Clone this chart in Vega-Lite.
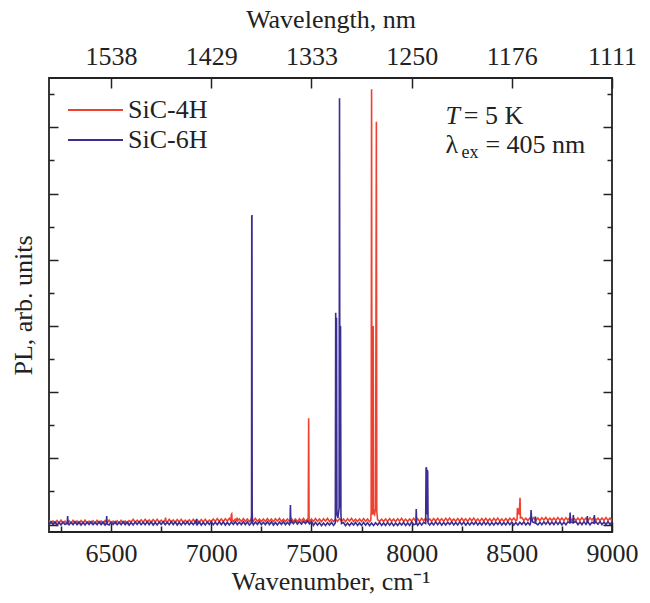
{
  "$schema": "https://vega.github.io/schema/vega-lite/v6.json",
  "width": 563,
  "height": 454,
  "autosize": {"type": "none"},
  "padding": {"left": 49, "top": 78, "right": 38, "bottom": 71},
  "background": "white",
  "config": {
    "view": {"stroke": "#222", "strokeWidth": 1.8},
    "font": "Liberation Serif",
    "axis": {
      "domain": false, "grid": false,
      "labelFont": "Liberation Serif, Times New Roman, serif", "labelFontSize": 26, "labelColor": "#222",
      "titleFont": "Liberation Serif, Times New Roman, serif", "titleFontSize": 26, "titleFontWeight": "normal", "titleColor": "#222",
      "tickColor": "#222", "tickWidth": 1.5
    }
  },
  "datasets": {
    "spec": [
      {"s":"SiC-4H","w":6190,"v":0.125},{"s":"SiC-4H","w":6200,"v":0.045},{"s":"SiC-4H","w":6210,"v":0.11},{"s":"SiC-4H","w":6220,"v":0.03},{"s":"SiC-4H","w":6230,"v":0.12},{"s":"SiC-4H","w":6240,"v":0.05},{"s":"SiC-4H","w":6250,"v":0.13},{"s":"SiC-4H","w":6260,"v":0.04},{"s":"SiC-4H","w":6270,"v":0.105},{"s":"SiC-4H","w":6280,"v":0.035},{"s":"SiC-4H","w":6290,"v":0.115},{"s":"SiC-4H","w":6300,"v":0.04},
      {"s":"SiC-4H","w":6310,"v":0.125},{"s":"SiC-4H","w":6320,"v":0.045},{"s":"SiC-4H","w":6330,"v":0.11},{"s":"SiC-4H","w":6340,"v":0.03},{"s":"SiC-4H","w":6350,"v":0.12},{"s":"SiC-4H","w":6360,"v":0.05},{"s":"SiC-4H","w":6370,"v":0.13},{"s":"SiC-4H","w":6380,"v":0.04},{"s":"SiC-4H","w":6390,"v":0.105},{"s":"SiC-4H","w":6400,"v":0.035},{"s":"SiC-4H","w":6410,"v":0.115},{"s":"SiC-4H","w":6420,"v":0.04},
      {"s":"SiC-4H","w":6430,"v":0.125},{"s":"SiC-4H","w":6440,"v":0.045},{"s":"SiC-4H","w":6450,"v":0.11},{"s":"SiC-4H","w":6460,"v":0.03},{"s":"SiC-4H","w":6470,"v":0.12},{"s":"SiC-4H","w":6480,"v":0.05},{"s":"SiC-4H","w":6490,"v":0.13},{"s":"SiC-4H","w":6500,"v":0.04},{"s":"SiC-4H","w":6510,"v":0.105},{"s":"SiC-4H","w":6520,"v":0.035},{"s":"SiC-4H","w":6530,"v":0.115},{"s":"SiC-4H","w":6540,"v":0.04},
      {"s":"SiC-4H","w":6550,"v":0.125},{"s":"SiC-4H","w":6560,"v":0.045},{"s":"SiC-4H","w":6570,"v":0.11},{"s":"SiC-4H","w":6580,"v":0.03},{"s":"SiC-4H","w":6590,"v":0.12},
      {"s":"SiC-4H","w":6600,"v":0.08},{"s":"SiC-4H","w":6610,"v":0.16},{"s":"SiC-4H","w":6620,"v":0.07},{"s":"SiC-4H","w":6630,"v":0.135},{"s":"SiC-4H","w":6640,"v":0.065},{"s":"SiC-4H","w":6650,"v":0.145},{"s":"SiC-4H","w":6660,"v":0.07},{"s":"SiC-4H","w":6670,"v":0.155},{"s":"SiC-4H","w":6680,"v":0.075},{"s":"SiC-4H","w":6690,"v":0.14},{"s":"SiC-4H","w":6700,"v":0.06},{"s":"SiC-4H","w":6710,"v":0.15},
      {"s":"SiC-4H","w":6720,"v":0.08},{"s":"SiC-4H","w":6730,"v":0.16},{"s":"SiC-4H","w":6740,"v":0.07},{"s":"SiC-4H","w":6750,"v":0.135},{"s":"SiC-4H","w":6760,"v":0.065},{"s":"SiC-4H","w":6770,"v":0.145},{"s":"SiC-4H","w":6772,"v":0.21},{"s":"SiC-4H","w":6774,"v":0.1},{"s":"SiC-4H","w":6780,"v":0.07},{"s":"SiC-4H","w":6790,"v":0.155},{"s":"SiC-4H","w":6800,"v":0.075},{"s":"SiC-4H","w":6810,"v":0.14},{"s":"SiC-4H","w":6820,"v":0.06},{"s":"SiC-4H","w":6830,"v":0.15},
      {"s":"SiC-4H","w":6840,"v":0.08},{"s":"SiC-4H","w":6850,"v":0.16},{"s":"SiC-4H","w":6860,"v":0.07},{"s":"SiC-4H","w":6870,"v":0.135},{"s":"SiC-4H","w":6880,"v":0.065},{"s":"SiC-4H","w":6890,"v":0.145},{"s":"SiC-4H","w":6900,"v":0.07},{"s":"SiC-4H","w":6910,"v":0.155},{"s":"SiC-4H","w":6920,"v":0.075},{"s":"SiC-4H","w":6930,"v":0.14},{"s":"SiC-4H","w":6940,"v":0.06},{"s":"SiC-4H","w":6950,"v":0.15},
      {"s":"SiC-4H","w":6960,"v":0.08},{"s":"SiC-4H","w":6970,"v":0.16},{"s":"SiC-4H","w":6980,"v":0.07},{"s":"SiC-4H","w":6990,"v":0.135},
      {"s":"SiC-4H","w":7000,"v":0.09},{"s":"SiC-4H","w":7010,"v":0.17},{"s":"SiC-4H","w":7020,"v":0.095},{"s":"SiC-4H","w":7030,"v":0.18},{"s":"SiC-4H","w":7040,"v":0.10},{"s":"SiC-4H","w":7050,"v":0.165},{"s":"SiC-4H","w":7060,"v":0.085},{"s":"SiC-4H","w":7070,"v":0.175},{"s":"SiC-4H","w":7080,"v":0.105},{"s":"SiC-4H","w":7090,"v":0.185},
      {"s":"SiC-4H","w":7098,"v":0.12},{"s":"SiC-4H","w":7100,"v":0.30},{"s":"SiC-4H","w":7102,"v":0.32},{"s":"SiC-4H","w":7104,"v":0.14},{"s":"SiC-4H","w":7110,"v":0.095},{"s":"SiC-4H","w":7120,"v":0.16},{"s":"SiC-4H","w":7127,"v":0.12},{"s":"SiC-4H","w":7129,"v":0.21},{"s":"SiC-4H","w":7131,"v":0.11},{"s":"SiC-4H","w":7140,"v":0.17},
      {"s":"SiC-4H","w":7150,"v":0.095},{"s":"SiC-4H","w":7160,"v":0.18},{"s":"SiC-4H","w":7170,"v":0.10},{"s":"SiC-4H","w":7180,"v":0.165},{"s":"SiC-4H","w":7190,"v":0.085},{"s":"SiC-4H","w":7200,"v":0.175},{"s":"SiC-4H","w":7210,"v":0.105},{"s":"SiC-4H","w":7220,"v":0.185},{"s":"SiC-4H","w":7230,"v":0.095},{"s":"SiC-4H","w":7240,"v":0.16},{"s":"SiC-4H","w":7250,"v":0.09},{"s":"SiC-4H","w":7260,"v":0.17},
      {"s":"SiC-4H","w":7270,"v":0.095},{"s":"SiC-4H","w":7280,"v":0.18},{"s":"SiC-4H","w":7290,"v":0.10},{"s":"SiC-4H","w":7300,"v":0.165},{"s":"SiC-4H","w":7310,"v":0.085},{"s":"SiC-4H","w":7320,"v":0.175},{"s":"SiC-4H","w":7330,"v":0.105},{"s":"SiC-4H","w":7340,"v":0.185},{"s":"SiC-4H","w":7350,"v":0.095},{"s":"SiC-4H","w":7360,"v":0.16},{"s":"SiC-4H","w":7370,"v":0.09},{"s":"SiC-4H","w":7380,"v":0.17},
      {"s":"SiC-4H","w":7390,"v":0.095},{"s":"SiC-4H","w":7400,"v":0.18},{"s":"SiC-4H","w":7410,"v":0.10},{"s":"SiC-4H","w":7420,"v":0.165},{"s":"SiC-4H","w":7430,"v":0.085},{"s":"SiC-4H","w":7440,"v":0.175},{"s":"SiC-4H","w":7450,"v":0.105},{"s":"SiC-4H","w":7460,"v":0.185},{"s":"SiC-4H","w":7470,"v":0.095},{"s":"SiC-4H","w":7480,"v":0.16},
      {"s":"SiC-4H","w":7484,"v":0.13},{"s":"SiC-4H","w":7486,"v":3.21},{"s":"SiC-4H","w":7488,"v":0.14},{"s":"SiC-4H","w":7490,"v":0.09},{"s":"SiC-4H","w":7500,"v":0.17},{"s":"SiC-4H","w":7510,"v":0.095},{"s":"SiC-4H","w":7520,"v":0.18},{"s":"SiC-4H","w":7530,"v":0.10},{"s":"SiC-4H","w":7540,"v":0.165},{"s":"SiC-4H","w":7550,"v":0.085},{"s":"SiC-4H","w":7560,"v":0.175},
      {"s":"SiC-4H","w":7570,"v":0.105},{"s":"SiC-4H","w":7580,"v":0.185},{"s":"SiC-4H","w":7590,"v":0.095},{"s":"SiC-4H","w":7600,"v":0.16},{"s":"SiC-4H","w":7610,"v":0.09},{"s":"SiC-4H","w":7620,"v":0.17},{"s":"SiC-4H","w":7630,"v":0.095},{"s":"SiC-4H","w":7640,"v":0.18},{"s":"SiC-4H","w":7650,"v":0.10},{"s":"SiC-4H","w":7660,"v":0.165},{"s":"SiC-4H","w":7670,"v":0.085},{"s":"SiC-4H","w":7680,"v":0.175},
      {"s":"SiC-4H","w":7690,"v":0.105},{"s":"SiC-4H","w":7700,"v":0.185},{"s":"SiC-4H","w":7710,"v":0.095},{"s":"SiC-4H","w":7720,"v":0.16},{"s":"SiC-4H","w":7730,"v":0.09},{"s":"SiC-4H","w":7740,"v":0.17},{"s":"SiC-4H","w":7750,"v":0.095},{"s":"SiC-4H","w":7760,"v":0.18},{"s":"SiC-4H","w":7770,"v":0.10},{"s":"SiC-4H","w":7780,"v":0.165},{"s":"SiC-4H","w":7790,"v":0.085},
      {"s":"SiC-4H","w":7796,"v":0.13},{"s":"SiC-4H","w":7798,"v":0.4},{"s":"SiC-4H","w":7800,"v":13.15},{"s":"SiC-4H","w":7802,"v":0.5},{"s":"SiC-4H","w":7805,"v":0.3},{"s":"SiC-4H","w":7808,"v":6.0},{"s":"SiC-4H","w":7810,"v":0.35},{"s":"SiC-4H","w":7815,"v":0.3},{"s":"SiC-4H","w":7820,"v":0.5},{"s":"SiC-4H","w":7824,"v":12.17},{"s":"SiC-4H","w":7826,"v":0.4},{"s":"SiC-4H","w":7830,"v":0.15},
      {"s":"SiC-4H","w":7840,"v":0.095},{"s":"SiC-4H","w":7850,"v":0.16},{"s":"SiC-4H","w":7860,"v":0.09},{"s":"SiC-4H","w":7870,"v":0.17},{"s":"SiC-4H","w":7880,"v":0.095},{"s":"SiC-4H","w":7890,"v":0.18},{"s":"SiC-4H","w":7900,"v":0.10},{"s":"SiC-4H","w":7910,"v":0.165},{"s":"SiC-4H","w":7920,"v":0.085},{"s":"SiC-4H","w":7930,"v":0.175},{"s":"SiC-4H","w":7940,"v":0.105},{"s":"SiC-4H","w":7950,"v":0.185},
      {"s":"SiC-4H","w":7960,"v":0.095},{"s":"SiC-4H","w":7970,"v":0.16},{"s":"SiC-4H","w":7980,"v":0.09},{"s":"SiC-4H","w":7990,"v":0.17},
      {"s":"SiC-4H","w":8000,"v":0.105},{"s":"SiC-4H","w":8010,"v":0.19},{"s":"SiC-4H","w":8020,"v":0.11},{"s":"SiC-4H","w":8030,"v":0.175},{"s":"SiC-4H","w":8040,"v":0.095},{"s":"SiC-4H","w":8050,"v":0.185},{"s":"SiC-4H","w":8060,"v":0.115},{"s":"SiC-4H","w":8070,"v":0.195},{"s":"SiC-4H","w":8080,"v":0.105},{"s":"SiC-4H","w":8090,"v":0.17},{"s":"SiC-4H","w":8100,"v":0.10},{"s":"SiC-4H","w":8110,"v":0.18},
      {"s":"SiC-4H","w":8120,"v":0.105},{"s":"SiC-4H","w":8130,"v":0.19},{"s":"SiC-4H","w":8140,"v":0.11},{"s":"SiC-4H","w":8150,"v":0.175},{"s":"SiC-4H","w":8160,"v":0.095},{"s":"SiC-4H","w":8170,"v":0.185},{"s":"SiC-4H","w":8180,"v":0.115},{"s":"SiC-4H","w":8190,"v":0.195},{"s":"SiC-4H","w":8200,"v":0.105},{"s":"SiC-4H","w":8210,"v":0.17},{"s":"SiC-4H","w":8220,"v":0.10},{"s":"SiC-4H","w":8230,"v":0.18},
      {"s":"SiC-4H","w":8240,"v":0.105},{"s":"SiC-4H","w":8250,"v":0.19},{"s":"SiC-4H","w":8260,"v":0.11},{"s":"SiC-4H","w":8270,"v":0.175},{"s":"SiC-4H","w":8280,"v":0.095},{"s":"SiC-4H","w":8290,"v":0.185},{"s":"SiC-4H","w":8300,"v":0.115},{"s":"SiC-4H","w":8310,"v":0.195},{"s":"SiC-4H","w":8320,"v":0.105},{"s":"SiC-4H","w":8330,"v":0.17},{"s":"SiC-4H","w":8340,"v":0.10},{"s":"SiC-4H","w":8350,"v":0.18},
      {"s":"SiC-4H","w":8360,"v":0.105},{"s":"SiC-4H","w":8370,"v":0.19},{"s":"SiC-4H","w":8380,"v":0.11},{"s":"SiC-4H","w":8390,"v":0.175},{"s":"SiC-4H","w":8400,"v":0.095},{"s":"SiC-4H","w":8410,"v":0.185},{"s":"SiC-4H","w":8420,"v":0.115},{"s":"SiC-4H","w":8430,"v":0.195},{"s":"SiC-4H","w":8440,"v":0.105},{"s":"SiC-4H","w":8450,"v":0.17},{"s":"SiC-4H","w":8460,"v":0.10},{"s":"SiC-4H","w":8470,"v":0.18},
      {"s":"SiC-4H","w":8480,"v":0.105},{"s":"SiC-4H","w":8490,"v":0.19},
      {"s":"SiC-4H","w":8500,"v":0.13},{"s":"SiC-4H","w":8510,"v":0.195},{"s":"SiC-4H","w":8520,"v":0.115},{"s":"SiC-4H","w":8526,"v":0.15},{"s":"SiC-4H","w":8528,"v":0.50},{"s":"SiC-4H","w":8531,"v":0.45},{"s":"SiC-4H","w":8536,"v":0.3},{"s":"SiC-4H","w":8539,"v":0.55},{"s":"SiC-4H","w":8541,"v":0.81},{"s":"SiC-4H","w":8543,"v":0.2},
      {"s":"SiC-4H","w":8550,"v":0.215},{"s":"SiC-4H","w":8560,"v":0.125},{"s":"SiC-4H","w":8570,"v":0.19},{"s":"SiC-4H","w":8580,"v":0.12},{"s":"SiC-4H","w":8590,"v":0.20},{"s":"SiC-4H","w":8600,"v":0.125},{"s":"SiC-4H","w":8610,"v":0.21},{"s":"SiC-4H","w":8620,"v":0.13},{"s":"SiC-4H","w":8630,"v":0.195},{"s":"SiC-4H","w":8640,"v":0.115},{"s":"SiC-4H","w":8650,"v":0.205},
      {"s":"SiC-4H","w":8660,"v":0.135},{"s":"SiC-4H","w":8670,"v":0.215},{"s":"SiC-4H","w":8680,"v":0.125},{"s":"SiC-4H","w":8690,"v":0.19},{"s":"SiC-4H","w":8700,"v":0.12},{"s":"SiC-4H","w":8710,"v":0.20},{"s":"SiC-4H","w":8720,"v":0.125},{"s":"SiC-4H","w":8730,"v":0.21},{"s":"SiC-4H","w":8740,"v":0.13},{"s":"SiC-4H","w":8750,"v":0.195},{"s":"SiC-4H","w":8760,"v":0.115},{"s":"SiC-4H","w":8770,"v":0.205},
      {"s":"SiC-4H","w":8780,"v":0.135},{"s":"SiC-4H","w":8790,"v":0.215},{"s":"SiC-4H","w":8800,"v":0.125},{"s":"SiC-4H","w":8810,"v":0.19},{"s":"SiC-4H","w":8820,"v":0.12},{"s":"SiC-4H","w":8830,"v":0.20},{"s":"SiC-4H","w":8840,"v":0.125},{"s":"SiC-4H","w":8850,"v":0.21},{"s":"SiC-4H","w":8860,"v":0.13},{"s":"SiC-4H","w":8870,"v":0.195},{"s":"SiC-4H","w":8880,"v":0.115},{"s":"SiC-4H","w":8890,"v":0.205},
      {"s":"SiC-4H","w":8900,"v":0.135},{"s":"SiC-4H","w":8910,"v":0.215},{"s":"SiC-4H","w":8920,"v":0.125},{"s":"SiC-4H","w":8930,"v":0.19},{"s":"SiC-4H","w":8940,"v":0.12},{"s":"SiC-4H","w":8950,"v":0.20},{"s":"SiC-4H","w":8960,"v":0.125},{"s":"SiC-4H","w":8970,"v":0.21},{"s":"SiC-4H","w":8980,"v":0.13},{"s":"SiC-4H","w":8990,"v":0.195},{"s":"SiC-4H","w":9000,"v":0.115},

      {"s":"SiC-6H","w":6190,"v":-0.005},{"s":"SiC-6H","w":6200,"v":0.085},{"s":"SiC-6H","w":6210,"v":0.0},{"s":"SiC-6H","w":6220,"v":0.08},{"s":"SiC-6H","w":6230,"v":-0.015},{"s":"SiC-6H","w":6240,"v":0.065},{"s":"SiC-6H","w":6250,"v":-0.01},{"s":"SiC-6H","w":6260,"v":0.075},{"s":"SiC-6H","w":6270,"v":0.005},
      {"s":"SiC-6H","w":6281,"v":0.04},{"s":"SiC-6H","w":6283,"v":0.26},{"s":"SiC-6H","w":6285,"v":0.03},{"s":"SiC-6H","w":6290,"v":-0.005},{"s":"SiC-6H","w":6300,"v":0.07},{"s":"SiC-6H","w":6310,"v":-0.005},{"s":"SiC-6H","w":6320,"v":0.085},{"s":"SiC-6H","w":6330,"v":0.0},{"s":"SiC-6H","w":6340,"v":0.08},{"s":"SiC-6H","w":6350,"v":-0.015},{"s":"SiC-6H","w":6360,"v":0.065},
      {"s":"SiC-6H","w":6370,"v":-0.01},{"s":"SiC-6H","w":6380,"v":0.075},{"s":"SiC-6H","w":6390,"v":0.005},{"s":"SiC-6H","w":6400,"v":0.085},{"s":"SiC-6H","w":6410,"v":-0.005},{"s":"SiC-6H","w":6420,"v":0.07},{"s":"SiC-6H","w":6430,"v":-0.005},{"s":"SiC-6H","w":6440,"v":0.085},{"s":"SiC-6H","w":6450,"v":0.0},{"s":"SiC-6H","w":6460,"v":0.08},{"s":"SiC-6H","w":6470,"v":-0.015},
      {"s":"SiC-6H","w":6476,"v":0.03},{"s":"SiC-6H","w":6478,"v":0.26},{"s":"SiC-6H","w":6480,"v":0.02},{"s":"SiC-6H","w":6490,"v":-0.01},{"s":"SiC-6H","w":6500,"v":0.075},{"s":"SiC-6H","w":6510,"v":0.005},{"s":"SiC-6H","w":6520,"v":0.085},{"s":"SiC-6H","w":6530,"v":-0.005},{"s":"SiC-6H","w":6540,"v":0.07},{"s":"SiC-6H","w":6550,"v":-0.005},{"s":"SiC-6H","w":6560,"v":0.085},
      {"s":"SiC-6H","w":6570,"v":0.0},{"s":"SiC-6H","w":6580,"v":0.08},{"s":"SiC-6H","w":6590,"v":-0.015},{"s":"SiC-6H","w":6600,"v":0.065},{"s":"SiC-6H","w":6610,"v":-0.01},{"s":"SiC-6H","w":6620,"v":0.075},{"s":"SiC-6H","w":6630,"v":0.005},{"s":"SiC-6H","w":6640,"v":0.085},{"s":"SiC-6H","w":6650,"v":-0.005},{"s":"SiC-6H","w":6660,"v":0.07},{"s":"SiC-6H","w":6670,"v":-0.005},{"s":"SiC-6H","w":6680,"v":0.085},
      {"s":"SiC-6H","w":6690,"v":0.0},{"s":"SiC-6H","w":6700,"v":0.08},{"s":"SiC-6H","w":6710,"v":-0.015},{"s":"SiC-6H","w":6720,"v":0.065},{"s":"SiC-6H","w":6730,"v":-0.01},{"s":"SiC-6H","w":6740,"v":0.075},{"s":"SiC-6H","w":6750,"v":0.005},{"s":"SiC-6H","w":6760,"v":0.085},{"s":"SiC-6H","w":6770,"v":-0.005},{"s":"SiC-6H","w":6780,"v":0.07},{"s":"SiC-6H","w":6790,"v":-0.005},{"s":"SiC-6H","w":6800,"v":0.085},
      {"s":"SiC-6H","w":6810,"v":0.0},{"s":"SiC-6H","w":6820,"v":0.08},{"s":"SiC-6H","w":6830,"v":-0.015},{"s":"SiC-6H","w":6840,"v":0.065},{"s":"SiC-6H","w":6850,"v":-0.01},{"s":"SiC-6H","w":6860,"v":0.075},{"s":"SiC-6H","w":6870,"v":0.005},{"s":"SiC-6H","w":6880,"v":0.085},{"s":"SiC-6H","w":6890,"v":-0.005},{"s":"SiC-6H","w":6900,"v":0.07},{"s":"SiC-6H","w":6910,"v":-0.005},{"s":"SiC-6H","w":6920,"v":0.085},
      {"s":"SiC-6H","w":6924,"v":0.04},{"s":"SiC-6H","w":6926,"v":0.17},{"s":"SiC-6H","w":6928,"v":0.03},{"s":"SiC-6H","w":6930,"v":0.0},{"s":"SiC-6H","w":6940,"v":0.08},{"s":"SiC-6H","w":6950,"v":-0.015},{"s":"SiC-6H","w":6960,"v":0.065},{"s":"SiC-6H","w":6970,"v":-0.01},{"s":"SiC-6H","w":6980,"v":0.075},{"s":"SiC-6H","w":6990,"v":0.005},{"s":"SiC-6H","w":7000,"v":0.085},
      {"s":"SiC-6H","w":7010,"v":-0.005},{"s":"SiC-6H","w":7020,"v":0.07},{"s":"SiC-6H","w":7030,"v":-0.005},{"s":"SiC-6H","w":7040,"v":0.085},{"s":"SiC-6H","w":7050,"v":0.0},{"s":"SiC-6H","w":7060,"v":0.08},{"s":"SiC-6H","w":7070,"v":-0.015},{"s":"SiC-6H","w":7080,"v":0.065},{"s":"SiC-6H","w":7090,"v":-0.01},{"s":"SiC-6H","w":7100,"v":0.075},{"s":"SiC-6H","w":7110,"v":0.005},{"s":"SiC-6H","w":7120,"v":0.085},
      {"s":"SiC-6H","w":7130,"v":-0.005},{"s":"SiC-6H","w":7140,"v":0.07},{"s":"SiC-6H","w":7150,"v":-0.005},{"s":"SiC-6H","w":7160,"v":0.085},{"s":"SiC-6H","w":7170,"v":0.0},{"s":"SiC-6H","w":7180,"v":0.08},{"s":"SiC-6H","w":7190,"v":-0.015},
      {"s":"SiC-6H","w":7199,"v":0.04},{"s":"SiC-6H","w":7201,"v":0.3},{"s":"SiC-6H","w":7202,"v":9.3},{"s":"SiC-6H","w":7203,"v":9.35},{"s":"SiC-6H","w":7204,"v":0.4},{"s":"SiC-6H","w":7206,"v":0.05},
      {"s":"SiC-6H","w":7210,"v":-0.01},{"s":"SiC-6H","w":7220,"v":0.075},{"s":"SiC-6H","w":7230,"v":0.005},{"s":"SiC-6H","w":7240,"v":0.085},{"s":"SiC-6H","w":7250,"v":-0.005},{"s":"SiC-6H","w":7260,"v":0.07},{"s":"SiC-6H","w":7270,"v":-0.005},{"s":"SiC-6H","w":7280,"v":0.085},{"s":"SiC-6H","w":7290,"v":0.0},{"s":"SiC-6H","w":7300,"v":0.08},{"s":"SiC-6H","w":7310,"v":-0.015},{"s":"SiC-6H","w":7320,"v":0.065},
      {"s":"SiC-6H","w":7330,"v":-0.01},{"s":"SiC-6H","w":7340,"v":0.075},{"s":"SiC-6H","w":7350,"v":0.005},{"s":"SiC-6H","w":7360,"v":0.085},{"s":"SiC-6H","w":7370,"v":-0.005},{"s":"SiC-6H","w":7380,"v":0.07},{"s":"SiC-6H","w":7390,"v":-0.005},
      {"s":"SiC-6H","w":7393,"v":0.04},{"s":"SiC-6H","w":7395,"v":0.59},{"s":"SiC-6H","w":7397,"v":0.04},
      {"s":"SiC-6H","w":7400,"v":0.11},{"s":"SiC-6H","w":7410,"v":0.025},{"s":"SiC-6H","w":7420,"v":0.105},{"s":"SiC-6H","w":7430,"v":0.01},{"s":"SiC-6H","w":7440,"v":0.09},{"s":"SiC-6H","w":7450,"v":0.015},{"s":"SiC-6H","w":7460,"v":0.10},{"s":"SiC-6H","w":7470,"v":0.03},{"s":"SiC-6H","w":7480,"v":0.11},{"s":"SiC-6H","w":7490,"v":0.02},{"s":"SiC-6H","w":7500,"v":0.095},
      {"s":"SiC-6H","w":7510,"v":-0.025},{"s":"SiC-6H","w":7520,"v":0.065},{"s":"SiC-6H","w":7530,"v":-0.02},{"s":"SiC-6H","w":7540,"v":0.06},{"s":"SiC-6H","w":7550,"v":-0.035},{"s":"SiC-6H","w":7560,"v":0.045},{"s":"SiC-6H","w":7570,"v":-0.03},{"s":"SiC-6H","w":7580,"v":0.055},{"s":"SiC-6H","w":7590,"v":-0.015},{"s":"SiC-6H","w":7600,"v":0.065},{"s":"SiC-6H","w":7610,"v":-0.025},
      {"s":"SiC-6H","w":7619,"v":0.05},{"s":"SiC-6H","w":7621,"v":6.4},{"s":"SiC-6H","w":7623,"v":0.3},{"s":"SiC-6H","w":7625,"v":6.25},{"s":"SiC-6H","w":7627,"v":0.3},{"s":"SiC-6H","w":7632,"v":0.2},{"s":"SiC-6H","w":7638,"v":0.5},{"s":"SiC-6H","w":7640,"v":12.88},{"s":"SiC-6H","w":7642,"v":0.5},{"s":"SiC-6H","w":7645,"v":6.0},{"s":"SiC-6H","w":7647,"v":0.3},{"s":"SiC-6H","w":7650,"v":0.03},
      {"s":"SiC-6H","w":7660,"v":0.06},{"s":"SiC-6H","w":7670,"v":-0.035},{"s":"SiC-6H","w":7680,"v":0.045},{"s":"SiC-6H","w":7690,"v":-0.03},{"s":"SiC-6H","w":7700,"v":0.055},{"s":"SiC-6H","w":7710,"v":-0.015},{"s":"SiC-6H","w":7720,"v":0.065},{"s":"SiC-6H","w":7730,"v":-0.025},{"s":"SiC-6H","w":7740,"v":0.05},{"s":"SiC-6H","w":7750,"v":-0.025},{"s":"SiC-6H","w":7760,"v":0.065},
      {"s":"SiC-6H","w":7770,"v":-0.02},{"s":"SiC-6H","w":7780,"v":0.06},{"s":"SiC-6H","w":7790,"v":-0.035},{"s":"SiC-6H","w":7800,"v":0.045},{"s":"SiC-6H","w":7810,"v":-0.03},{"s":"SiC-6H","w":7820,"v":0.055},{"s":"SiC-6H","w":7830,"v":-0.015},{"s":"SiC-6H","w":7840,"v":0.065},{"s":"SiC-6H","w":7850,"v":-0.025},{"s":"SiC-6H","w":7860,"v":0.05},{"s":"SiC-6H","w":7870,"v":-0.025},
      {"s":"SiC-6H","w":7880,"v":0.065},{"s":"SiC-6H","w":7890,"v":-0.02},{"s":"SiC-6H","w":7900,"v":0.06},{"s":"SiC-6H","w":7910,"v":-0.035},{"s":"SiC-6H","w":7920,"v":0.045},{"s":"SiC-6H","w":7930,"v":-0.03},{"s":"SiC-6H","w":7940,"v":0.055},{"s":"SiC-6H","w":7950,"v":-0.015},{"s":"SiC-6H","w":7960,"v":0.065},{"s":"SiC-6H","w":7970,"v":-0.025},{"s":"SiC-6H","w":7980,"v":0.05},{"s":"SiC-6H","w":7990,"v":-0.025},
      {"s":"SiC-6H","w":8000,"v":0.08},{"s":"SiC-6H","w":8010,"v":-0.005},{"s":"SiC-6H","w":8021,"v":0.02},{"s":"SiC-6H","w":8023,"v":0.47},{"s":"SiC-6H","w":8025,"v":0.03},{"s":"SiC-6H","w":8030,"v":-0.02},{"s":"SiC-6H","w":8040,"v":0.06},{"s":"SiC-6H","w":8050,"v":-0.015},{"s":"SiC-6H","w":8060,"v":0.07},
      {"s":"SiC-6H","w":8070,"v":0.03},{"s":"SiC-6H","w":8072,"v":1.7},{"s":"SiC-6H","w":8074,"v":1.73},{"s":"SiC-6H","w":8076,"v":0.3},{"s":"SiC-6H","w":8078,"v":1.65},{"s":"SiC-6H","w":8080,"v":1.6},{"s":"SiC-6H","w":8082,"v":0.05},
      {"s":"SiC-6H","w":8090,"v":-0.01},{"s":"SiC-6H","w":8100,"v":0.065},{"s":"SiC-6H","w":8110,"v":-0.01},{"s":"SiC-6H","w":8120,"v":0.08},{"s":"SiC-6H","w":8130,"v":-0.005},{"s":"SiC-6H","w":8140,"v":0.075},{"s":"SiC-6H","w":8150,"v":-0.02},{"s":"SiC-6H","w":8160,"v":0.06},{"s":"SiC-6H","w":8170,"v":-0.015},{"s":"SiC-6H","w":8180,"v":0.07},{"s":"SiC-6H","w":8190,"v":0.0},{"s":"SiC-6H","w":8200,"v":0.08},
      {"s":"SiC-6H","w":8210,"v":-0.01},{"s":"SiC-6H","w":8220,"v":0.065},{"s":"SiC-6H","w":8230,"v":-0.01},{"s":"SiC-6H","w":8240,"v":0.08},{"s":"SiC-6H","w":8250,"v":-0.005},{"s":"SiC-6H","w":8260,"v":0.075},{"s":"SiC-6H","w":8270,"v":-0.02},{"s":"SiC-6H","w":8280,"v":0.06},{"s":"SiC-6H","w":8290,"v":-0.015},{"s":"SiC-6H","w":8300,"v":0.07},{"s":"SiC-6H","w":8310,"v":0.0},{"s":"SiC-6H","w":8320,"v":0.08},
      {"s":"SiC-6H","w":8330,"v":-0.01},{"s":"SiC-6H","w":8340,"v":0.065},{"s":"SiC-6H","w":8350,"v":-0.01},{"s":"SiC-6H","w":8360,"v":0.08},{"s":"SiC-6H","w":8370,"v":-0.005},{"s":"SiC-6H","w":8380,"v":0.075},{"s":"SiC-6H","w":8390,"v":-0.02},{"s":"SiC-6H","w":8400,"v":0.06},{"s":"SiC-6H","w":8410,"v":-0.015},{"s":"SiC-6H","w":8420,"v":0.07},{"s":"SiC-6H","w":8430,"v":0.0},{"s":"SiC-6H","w":8440,"v":0.08},
      {"s":"SiC-6H","w":8450,"v":-0.01},{"s":"SiC-6H","w":8460,"v":0.065},{"s":"SiC-6H","w":8470,"v":-0.01},{"s":"SiC-6H","w":8480,"v":0.08},{"s":"SiC-6H","w":8490,"v":-0.005},{"s":"SiC-6H","w":8500,"v":0.075},{"s":"SiC-6H","w":8510,"v":-0.02},{"s":"SiC-6H","w":8520,"v":0.06},{"s":"SiC-6H","w":8530,"v":-0.015},{"s":"SiC-6H","w":8540,"v":0.07},{"s":"SiC-6H","w":8550,"v":0.0},{"s":"SiC-6H","w":8560,"v":0.08},
      {"s":"SiC-6H","w":8570,"v":-0.01},{"s":"SiC-6H","w":8580,"v":0.065},{"s":"SiC-6H","w":8590,"v":-0.01},
      {"s":"SiC-6H","w":8594,"v":0.05},{"s":"SiC-6H","w":8596,"v":0.44},{"s":"SiC-6H","w":8598,"v":0.25},{"s":"SiC-6H","w":8602,"v":0.12},{"s":"SiC-6H","w":8606,"v":0.07},{"s":"SiC-6H","w":8616,"v":0.05},{"s":"SiC-6H","w":8618,"v":0.24},{"s":"SiC-6H","w":8620,"v":0.04},
      {"s":"SiC-6H","w":8630,"v":-0.01},{"s":"SiC-6H","w":8640,"v":0.07},{"s":"SiC-6H","w":8650,"v":-0.005},{"s":"SiC-6H","w":8660,"v":0.08},{"s":"SiC-6H","w":8670,"v":0.01},{"s":"SiC-6H","w":8680,"v":0.09},{"s":"SiC-6H","w":8690,"v":0.0},{"s":"SiC-6H","w":8700,"v":0.075},{"s":"SiC-6H","w":8710,"v":0.0},{"s":"SiC-6H","w":8720,"v":0.09},{"s":"SiC-6H","w":8730,"v":0.005},{"s":"SiC-6H","w":8740,"v":0.085},
      {"s":"SiC-6H","w":8750,"v":-0.01},{"s":"SiC-6H","w":8760,"v":0.07},{"s":"SiC-6H","w":8770,"v":-0.005},
      {"s":"SiC-6H","w":8780,"v":0.08},{"s":"SiC-6H","w":8789,"v":0.05},{"s":"SiC-6H","w":8791,"v":0.36},{"s":"SiC-6H","w":8793,"v":0.08},{"s":"SiC-6H","w":8800,"v":0.06},{"s":"SiC-6H","w":8805,"v":0.05},{"s":"SiC-6H","w":8807,"v":0.29},{"s":"SiC-6H","w":8809,"v":0.06},
      {"s":"SiC-6H","w":8820,"v":0.09},{"s":"SiC-6H","w":8830,"v":0.0},{"s":"SiC-6H","w":8840,"v":0.075},{"s":"SiC-6H","w":8850,"v":0.0},{"s":"SiC-6H","w":8860,"v":0.09},{"s":"SiC-6H","w":8870,"v":0.005},{"s":"SiC-6H","w":8875,"v":0.05},{"s":"SiC-6H","w":8877,"v":0.26},{"s":"SiC-6H","w":8879,"v":0.05},{"s":"SiC-6H","w":8880,"v":0.085},{"s":"SiC-6H","w":8890,"v":-0.01},{"s":"SiC-6H","w":8900,"v":0.07},
      {"s":"SiC-6H","w":8910,"v":0.04},{"s":"SiC-6H","w":8912,"v":0.29},{"s":"SiC-6H","w":8914,"v":0.05},{"s":"SiC-6H","w":8920,"v":0.08},{"s":"SiC-6H","w":8930,"v":0.01},{"s":"SiC-6H","w":8940,"v":0.09},{"s":"SiC-6H","w":8950,"v":0.0},{"s":"SiC-6H","w":8960,"v":0.075},{"s":"SiC-6H","w":8970,"v":0.0},{"s":"SiC-6H","w":8980,"v":0.09},{"s":"SiC-6H","w":8990,"v":0.005},{"s":"SiC-6H","w":9000,"v":0.085}
    ],
    "annMain": [
      {"x": 8260, "y": 12.10, "t": "= 5 K"},
      {"x": 8169, "y": 11.23, "t": "λ"},
      {"x": 8368, "y": 11.23, "t": "= 405 nm"}
    ],
    "annItalic": [
      {"x": 8169, "y": 12.10, "t": "T"}
    ],
    "annSub": [
      {"x": 8249, "y": 11.07, "t": "ex"}
    ]
  },
  "layer": [
    {
      "data": {"name": "spec"},
      "mark": {"type": "line", "strokeWidth": 1.6, "clip": true},
      "encoding": {
        "x": {
          "field": "w", "type": "quantitative",
          "scale": {"domain": [6190, 9000], "nice": false, "zero": false},
          "axis": {
            "orient": "bottom",
            "values": [6250, 6500, 6750, 7000, 7250, 7500, 7750, 8000, 8250, 8500, 8750, 9000],
            "format": "d",
            "labelExpr": "datum.value % 500 === 0 ? datum.label : ''",
            "tickSize": {"condition": {"test": "datum.value % 500 === 0", "value": -10}, "value": -6},
            "labelPadding": 18,
            "labelFlush": false,
            "labelOverlap": false,
            "title": "Wavenumber, cm⁻¹",
            "titlePadding": -2
          }
        },
        "y": {
          "field": "v", "type": "quantitative",
          "scale": {"domain": [-0.225, 13.49], "nice": false, "zero": false},
          "axis": {
            "orient": "left",
            "values": [0, 1, 2, 3, 4, 5, 6, 7, 8, 9, 10, 11, 12, 13],
            "labels": false,
            "tickSize": {"condition": {"test": "datum.value % 2 === 0", "value": -9}, "value": -5},
            "title": "PL, arb. units",
            "titlePadding": 12
          }
        },
        "color": {
          "field": "s", "type": "nominal",
          "scale": {"domain": ["SiC-4H", "SiC-6H"], "range": ["#ee4130", "#3a2d93"]},
          "legend": {
            "orient": "none", "legendX": 33.5, "legendY": 19, "title": null,
            "symbolType": "M-2.5,0H2.5", "symbolSize": 484, "symbolStrokeWidth": 2,
            "labelFont": "Liberation Serif", "labelFontSize": 26, "labelColor": "#222",
            "labelOffset": 19.5, "rowPadding": 4, "padding": 0
          }
        }
      }
    },
    {
      "data": {"name": "annMain"},
      "mark": {"type": "text", "align": "left", "baseline": "alphabetic", "fontSize": 26, "font": "Liberation Serif", "color": "#222"},
      "encoding": {
        "x": {
          "field": "x", "type": "quantitative",
          "scale": {"domain": [6190, 9000], "nice": false, "zero": false},
          "axis": {
            "orient": "top",
            "values": [6500, 7000, 7500, 8000, 8500, 9000],
            "labelExpr": "format(10000000 / datum.value, 'd')",
            "tickSize": -10,
            "labelPadding": 19,
            "labelFlush": false,
            "labelOverlap": false,
            "title": "Wavelength, nm",
            "titlePadding": 11
          }
        },
        "y": {
          "field": "y", "type": "quantitative",
          "scale": {"domain": [-0.225, 13.49], "nice": false, "zero": false},
          "axis": {
            "orient": "right",
            "values": [0, 1, 2, 3, 4, 5, 6, 7, 8, 9, 10, 11, 12, 13],
            "labels": false,
            "tickSize": {"condition": {"test": "datum.value % 2 === 0", "value": -9}, "value": -5},
            "title": null
          }
        },
        "text": {"field": "t"}
      }
    },
    {
      "data": {"name": "annItalic"},
      "mark": {"type": "text", "align": "left", "baseline": "alphabetic", "fontSize": 26, "font": "Liberation Serif", "fontStyle": "italic", "color": "#222"},
      "encoding": {
        "x": {"field": "x", "type": "quantitative", "axis": null},
        "y": {"field": "y", "type": "quantitative", "axis": null},
        "text": {"field": "t"}
      }
    },
    {
      "data": {"name": "annSub"},
      "mark": {"type": "text", "align": "left", "baseline": "alphabetic", "fontSize": 18, "font": "Liberation Serif", "color": "#222"},
      "encoding": {
        "x": {"field": "x", "type": "quantitative", "axis": null},
        "y": {"field": "y", "type": "quantitative", "axis": null},
        "text": {"field": "t"}
      }
    }
  ],
  "resolve": {"axis": {"x": "independent", "y": "independent"}}
}
